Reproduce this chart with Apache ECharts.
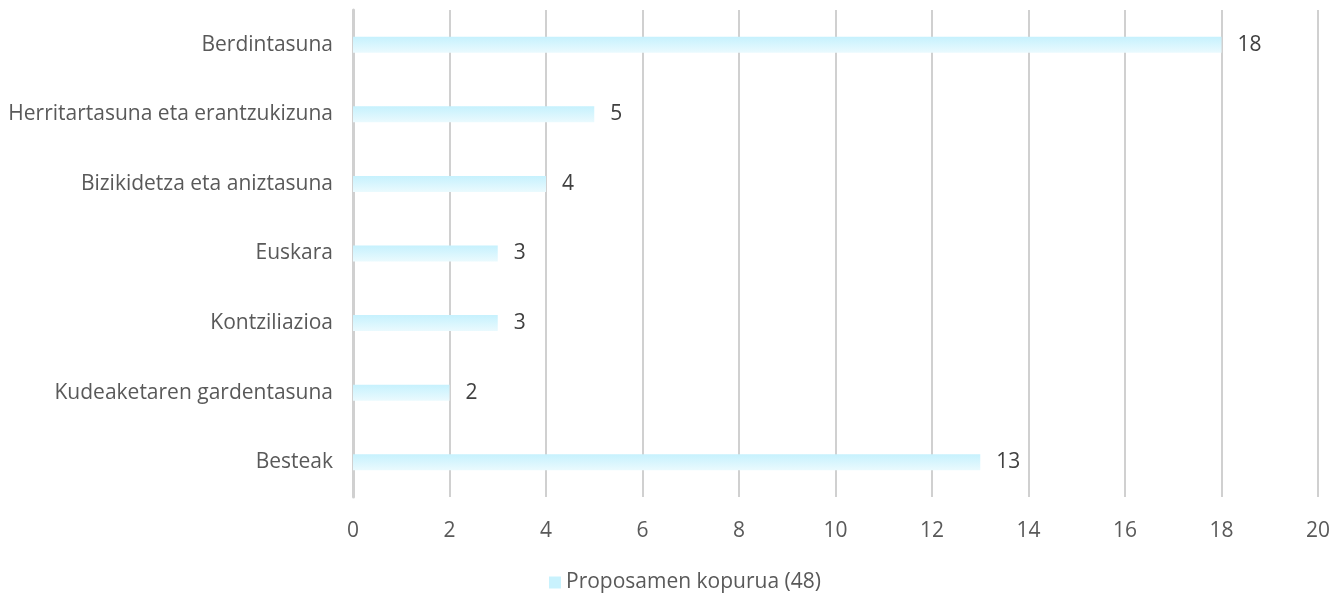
<!DOCTYPE html>
<html>
<head>
<meta charset="utf-8">
<script src="https://cdn.jsdelivr.net/npm/echarts@6/dist/echarts.min.js"></script>
<style>
  html, body { margin: 0; padding: 0; background: #fff; }
  #chart { width: 1343px; height: 594px; }
</style>
</head>
<body>
<div id="chart"></div>
<script>
const categories = [
  'Berdintasuna',
  'Herritartasuna eta erantzukizuna',
  'Bizikidetza eta aniztasuna',
  'Euskara',
  'Kontziliazioa',
  'Kudeaketaren gardentasuna',
  'Besteak'
];
const values = [18, 5, 4, 3, 3, 2, 13];
const seriesName = 'Proposamen kopurua (48)';

const myChart = echarts.init(document.getElementById('chart'));
const barColor = new echarts.graphic.LinearGradient(0, 0, 0, 1, [
  {offset: 0, color: '#c6f1fd'},
  {offset: 1, color: '#eafafe'}
]);
myChart.setOption({
  textStyle: {fontFamily: 'Open Sans'},
  grid: {
    top: 10,
    bottom: 97,
    left: 353,
    right: 25
  },
  legend: {
    top: 567,
    left: 544,
    itemWidth: 12,
    itemHeight: 12,
    itemGap: 6,
    icon: 'rect',
    textStyle: {color: '#595959', fontSize: 21},
    data: [{name: seriesName, itemStyle: {color: '#c9f2fd'}}]
  },
  xAxis: {
    type: 'value',
    min: 0,
    max: 20,
    interval: 2,
    axisLine: {show: false},
    axisTick: {show: false},
    splitLine: {lineStyle: {color: '#d0d0d0', width: 2}},
    axisLabel: {color: '#595959', fontSize: 21, margin: 24}
  },
  yAxis: {
    type: 'category',
    inverse: true,
    data: categories,
    axisLine: {lineStyle: {color: '#d0d0d0', width: 3}},
    axisTick: {show: false},
    axisLabel: {color: '#595959', fontSize: 21, margin: 20}
  },
  series: [{
    name: seriesName,
    type: 'bar',
    data: values,
    barWidth: 16,
    itemStyle: {color: barColor},
    label: {
      show: true,
      position: 'right',
      distance: 16,
      color: '#404040',
      fontSize: 21
    }
  }]
});
</script>
</body>
</html>
